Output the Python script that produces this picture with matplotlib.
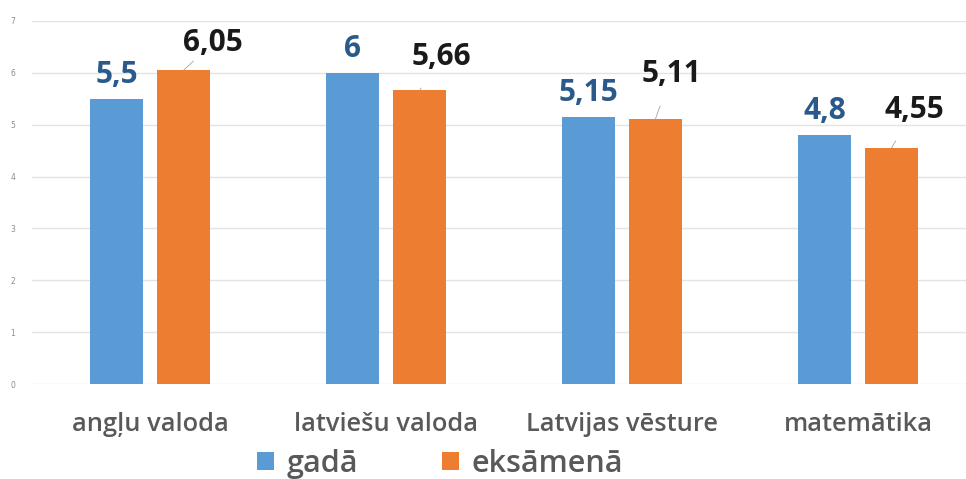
import numpy as np
import matplotlib.pyplot as plt

# Data
categories = ['angļu valoda', 'latviešu valoda', 'Latvijas vēsture', 'matemātika']
gada = [5.5, 6, 5.15, 4.8]
eksamena = [6.05, 5.66, 5.11, 4.55]
gada_labels = ['5,5', '6', '5,15', '4,8']
eksamena_labels = ['6,05', '5,66', '5,11', '4,55']
series_names = ['gadā', 'eksāmenā']

blue = '#5B9BD5'
orange = '#ED7D31'
font = 'Open Sans'

fig = plt.figure(figsize=(9.66, 4.79), dpi=100)
ax = fig.add_axes([32 / 966, 1 - 384 / 479, 1 - 32 / 966, (384 - 21) / 479])

x = np.arange(len(categories))
w = 0.225
off = 0.142
b1 = ax.bar(x - off, gada, w, color=blue, label=series_names[0], zorder=3)
b2 = ax.bar(x + off, eksamena, w, color=orange, label=series_names[1], zorder=3)

ax.set_xlim(-0.5, 3.458)
ax.set_ylim(0, 7)
ax.set_yticks(range(8))
ax.tick_params(axis='y', length=0, labelsize=5.5, labelcolor='#8c8c8c', pad=12)
ax.tick_params(axis='x', length=0, pad=20)
ax.set_xticks(x)
ax.set_xticklabels(categories, fontsize=18.3, color='#595959',
                   fontweight='semibold', family=font)
ax.grid(axis='y', color='#e3e3e3', linewidth=1, zorder=0)
for s in ax.spines.values():
    s.set_visible(False)

# blue value labels
for xi, v, lab in zip(x, gada, gada_labels):
    ax.annotate(lab, (xi - off, v), xytext=(0, 17), textcoords='offset points',
                ha='center', va='center', fontsize=21.5, fontweight='bold',
                color='#2a5a8a', family=font)

# orange value labels with leader lines (offsets in px)
shifts = [(29, 27), (22, 33), (16, 45), (23, 38)]
for xi, v, lab, (dx, dy) in zip(x, eksamena, eksamena_labels, shifts):
    ax.annotate(lab, (xi + off, v), xytext=(dx * 0.72, dy * 0.72),
                textcoords='offset points', ha='center', va='center',
                fontsize=21.5, fontweight='bold', color='#1a1a1a', family=font,
                arrowprops=dict(arrowstyle='-', color='#a6a6a6', lw=0.6,
                                shrinkA=11, shrinkB=0))

leg = fig.legend(handles=[b1, b2], loc='upper left', bbox_to_anchor=(257 / 966, 1 - 449 / 479),
                 ncol=2, frameon=False, handlelength=0.55, handleheight=0.55,
                 handletextpad=0.42, columnspacing=2.75, borderpad=0, borderaxespad=0,
                 prop={'family': font, 'size': 22, 'weight': 'semibold'})
for t in leg.get_texts():
    t.set_color('#595959')

fig.savefig('out.png', dpi=100)
